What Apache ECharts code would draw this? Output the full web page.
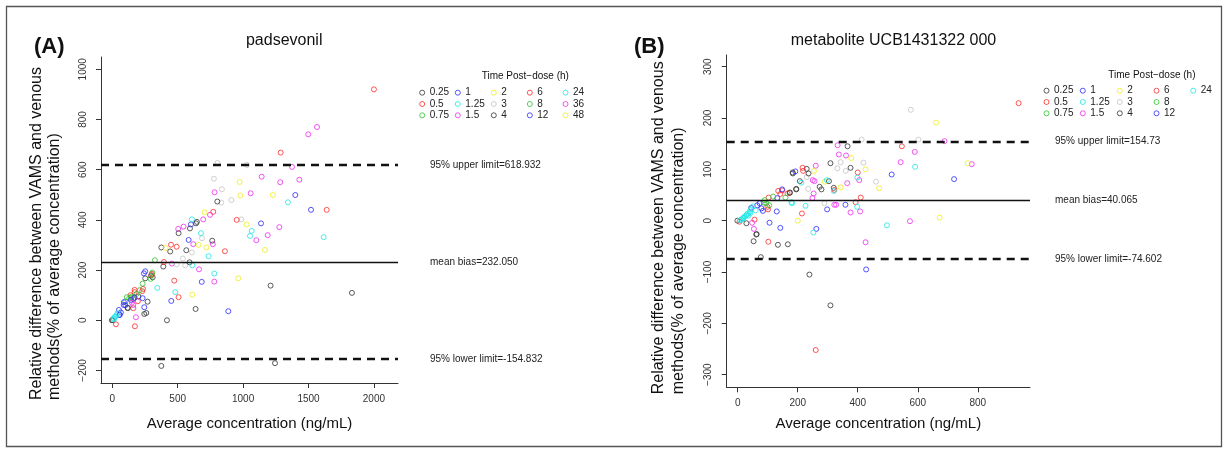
<!DOCTYPE html>
<html>
<head>
<meta charset="utf-8">
<script src="https://cdn.jsdelivr.net/npm/echarts@6/dist/echarts.min.js"></script>
<style>
html, body { margin: 0; padding: 0; background: #fff; }
#main { width: 1229px; height: 454px; }
</style>
</head>
<body>
<div id="main"></div>
<script>
// time groups (h) and the R palette they cycle through
var groupsA = ['0.25','0.5','0.75','1','1.25','1.5','2','3','4','6','8','12','24','36','48'];
var groupsB = ['0.25','0.5','0.75','1','1.25','1.5','2','3','4','6','8','12','24'];
var palette = ['#333333','#ff2a2a','#2ec42e','#2a2aff','#1ee6e6','#f02af0','#eeee1a','#c4c4c4'];

// panel A : padsevonil  [average conc, relative difference]
var pad_0_25 = [[-3,0],[3,1],[117,49],[120,49],[160,85],[200,95],[245,25],[260,29],[270,74],[252,167],[309,171],[296,178],[375,290],[390,214]];
var pad_0_5  = [[28,-16],[173,-24],[161,48],[196,76],[171,112],[171,121],[229,116],[235,125],[140,100],[303,185],[300,180],[474,158],[507,92]];
var pad_0_75 = [[112,92],[143,90],[130,88],[147,94],[100,75],[186,105],[210,120]];
var pad_1    = [[51,41],[54,21],[66,31],[58,22],[89,72],[87,61],[100,60],[143,81],[170,90],[232,88],[245,52],[252,195],[242,187]];
var pad_1_25 = [[13,4],[18,12],[33,20],[10,8],[25,15],[40,28],[344,129],[482,112]];
var pad_1_5  = [[161,61],[181,12],[150,70],[456,226],[504,364],[545,373],[619,303],[663,203],[695,402],[747,420],[769,303],[780,154]];
var pad_2    = [[408,288],[612,102],[660,300],[706,430],[719,290]];
var pad_3    = [[805,627],[1030,619],[777,564],[838,522],[833,469],[910,479],[986,402],[686,327],[609,270],[540,246],[492,223],[558,219]];
var pad_4    = [[443,274],[507,347],[566,279],[591,231],[594,366],[640,386],[647,392],[637,45],[764,317],[803,473],[1210,138],[1832,109],[418,0],[375,-182],[1244,-171]];
var pad_6    = [[2000,920],[1287,668],[1639,440],[772,432],[951,400],[449,301],[492,293],[395,232],[861,275]];
var pad_8    = [[326,239],[306,190],[293,165],[232,146]];
var pad_12   = [[601,382],[1137,386],[1399,499],[1519,440],[584,320],[684,153],[451,77],[887,36]];
var pad_24   = [[1343,470],[609,402],[1066,356],[1053,336],[1616,331],[678,347],[736,255],[612,219],[780,186]];
var pad_36   = [[1565,770],[1498,741],[1374,611],[1142,572],[1284,550],[1430,560],[782,510],[1058,506],[1277,371],[1188,339],[1101,319]];
var pad_48   = [[974,551],[979,497],[1228,499],[1027,382],[1167,280],[963,167]];

// panel B : metabolite UCB1431322 000
var met_0_25 = [[-1,0],[29,-5],[62,-27],[53,-40],[63,-26],[77,-71],[134,-47],[167,-46],[173,54],[174,55],[184,92],[183,94],[195,61],[195,62]];
var met_0_5  = [[6,-2],[56,2],[99,27],[101,22],[103,45],[102,-41],[135,58],[142,52],[148,59],[166,53],[214,14]];
var met_0_75 = [[88,35],[95,34],[90,40]];
var met_1    = [[45,25],[65,30],[73,34],[79,24],[84,19],[106,-4],[130,18],[132,44],[142,-14],[148,61]];
var met_1_25 = [[8,1],[12,2],[15,3],[18,5],[20,6],[23,8],[28,10],[30,12],[34,14],[36,10],[40,18],[42,15],[45,22],[51,28],[60,20],[179,36],[181,34]];
var met_1_5  = [[689,155],[333,147],[590,134],[337,129],[361,127],[543,114],[780,110],[260,107],[250,79],[256,77],[365,73],[405,79],[253,53],[249,44],[322,31],[328,31],[376,16],[408,18],[574,-1],[54,-16],[426,-42],[48,-4]];
var met_2    = [[661,191],[378,122],[766,112],[426,100],[254,97],[471,63],[343,65],[200,0],[673,6],[290,76]];
var met_3    = [[577,216],[413,158],[602,158],[343,114],[419,113],[332,102],[360,97],[461,76],[235,62],[289,34],[230,85]];
var met_4    = [[309,112],[366,145],[376,103],[230,101],[236,92],[207,77],[304,77],[273,66],[279,61],[320,64],[239,-105],[309,-165]];
var met_6    = [[936,229],[547,145],[216,103],[218,97],[400,94],[322,60],[410,45],[393,36],[260,-252]];
var met_8    = [[118,47],[159,45],[105,30]];
var met_12   = [[192,96],[513,90],[721,81],[298,22],[359,31],[262,-16],[428,-95]];
var met_24   = [[591,105],[212,74],[297,79],[399,84],[226,29],[398,27],[252,-23],[497,-9],[320,58]];

// limits of agreement
var limitsA = [618.932, 232.050, -154.832];
var limitTextA = ['95% upper limit=618.932', 'mean bias=232.050', '95% lower limit=-154.832'];
var limitsB = [154.73, 40.065, -74.602];
var limitTextB = ['95% upper limit=154.73', 'mean bias=40.065', '95% lower limit=-74.602'];

// tick labels
var ticksXA = [0, 500, 1000, 1500, 2000];
var ticksYA = [-200, 0, 200, 400, 600, 800, 1000];
var ticksXB = [0, 200, 400, 600, 800];
var ticksYB = [-300, -200, -100, 0, 100, 200, 300];

var dataA = [pad_0_25,pad_0_5,pad_0_75,pad_1,pad_1_25,pad_1_5,pad_2,pad_3,pad_4,pad_6,pad_8,pad_12,pad_24,pad_36,pad_48];
var dataB = [met_0_25,met_0_5,met_0_75,met_1,met_1_25,met_1_5,met_2,met_3,met_4,met_6,met_8,met_12,met_24];

var FONT = 'Liberation Sans, Arial, Helvetica, sans-serif';

function colorOf(i) { return palette[i % 8]; }

function axis(min, max, ticks, extra, rot) {
    var a = {
        type: 'value', min: min, max: max,
        splitLine: { show: false },
        axisLine: { show: true, onZero: false, lineStyle: { color: '#333', width: 1 } },
        axisTick: { show: true, customValues: ticks, length: 5, lineStyle: { color: '#333' } },
        axisLabel: { customValues: ticks, color: '#333', fontSize: 10, fontFamily: FONT, margin: rot ? 13 : 11,
                     rotate: rot || 0,
                     formatter: function (v) { return v < 0 ? '\u2212' + (-v) : String(v); } }
    };
    for (var k in extra) a[k] = extra[k];
    return a;
}

function limitLines(limits, texts, dist, shifts) {
    return {
        silent: true, symbol: 'none', animation: false,
        data: limits.map(function (v, k) {
            return {
                yAxis: v,
                lineStyle: k == 1 ? { type: 'solid', width: 1.3, color: '#111' }
                                  : { type: [8, 6], width: 2.3, color: '#111' },
                label: { show: true, position: 'end', distance: dist, formatter: texts[k],
                         color: '#222', fontSize: 10, fontFamily: FONT,
                         padding: [0, 0, shifts[k] * 2, 0] }
            };
        })
    };
}

var series = [];
groupsA.forEach(function (g, i) {
    var s = {
        name: g, type: 'scatter', xAxisIndex: 0, yAxisIndex: 0,
        symbol: 'circle', symbolSize: 5, data: dataA[i],
        itemStyle: { color: 'transparent', borderColor: colorOf(i), borderWidth: 1 },
        emphasis: { disabled: true }
    };
    if (i == 0) s.markLine = limitLines(limitsA, limitTextA, 32, [4.5, 1, 2]);
    series.push(s);
});
groupsB.forEach(function (g, i) {
    var s = {
        name: g, type: 'scatter', xAxisIndex: 1, yAxisIndex: 1,
        symbol: 'circle', symbolSize: 5, data: dataB[i],
        itemStyle: { color: 'transparent', borderColor: colorOf(i), borderWidth: 1 },
        emphasis: { disabled: true }
    };
    if (i == 0) s.markLine = limitLines(limitsB, limitTextB, 25, [7.5, 4, 1]);
    series.push(s);
});

// legends laid out column by column, 3 rows each
function legends(groups, lefts, top) {
    var out = [];
    for (var c = 0; c * 3 < groups.length; c++) {
        out.push({
            orient: 'vertical', left: lefts[c], top: top, padding: 0,
            itemGap: 1.3, itemWidth: 5, itemHeight: 5, selectedMode: false,
            textStyle: { fontSize: 10, color: '#222', fontFamily: FONT },
            data: groups.slice(c * 3, c * 3 + 3).map(function (g, r) {
                return { name: g, icon: 'circle',
                         itemStyle: { color: 'transparent', borderColor: colorOf(c * 3 + r), borderWidth: 1 } };
            })
        });
    }
    return out;
}

function txt(t, x, y, size, opts) {
    var e = { type: 'text', x: x, y: y, silent: true,
              style: { text: t, fill: '#111', font: size + 'px ' + FONT,
                       textAlign: 'left', textVerticalAlign: 'middle' } };
    for (var k in opts) e.style[k] = opts[k];
    return e;
}
function vtxt(t, x, y) {
    var e = txt(t, x, y, 16);
    e.rotation = Math.PI / 2;
    return e;
}

var chart = echarts.init(document.getElementById('main'), null, { renderer: 'canvas' });
chart.setOption({
    animation: false,
    backgroundColor: '#fff',
    grid: [
        { left: 101, top: 57, width: 297, height: 326, outerBoundsMode: 'none' },
        { left: 726.7, top: 55, width: 303.3, height: 332.3, outerBoundsMode: 'none' }
    ],
    xAxis: [
        axis(-86, 2184, ticksXA, { gridIndex: 0, name: 'Average concentration (ng/mL)', nameLocation: 'middle', nameGap: 33,
             nameTextStyle: { fontSize: 15, color: '#111', fontFamily: FONT } }),
        axis(-36.7, 974, ticksXB, { gridIndex: 1, name: 'Average concentration (ng/mL)', nameLocation: 'middle', nameGap: 29,
             nameTextStyle: { fontSize: 15, color: '#111', fontFamily: FONT } })
    ],
    yAxis: [
        axis(-250, 1049, ticksYA, { gridIndex: 0 }, 90),
        axis(-324.6, 322.8, ticksYB, { gridIndex: 1 }, 90)
    ],
    legend: legends(groupsA, [419.2, 454.8, 490.8, 526.8, 562.5], 87.7)
        .concat(legends(groupsB, [1043.5, 1079.8, 1116.8, 1153.5, 1190.2], 85.7)),
    series: series,
    graphic: [
        { type: 'rect', silent: true, shape: { x: 6.5, y: 6.5, width: 1215, height: 440 },
          style: { fill: 'none', stroke: '#555', lineWidth: 1.3 } },
        txt('(A)', 34, 47, 22, { font: 'bold 22px ' + FONT }),
        txt('(B)', 634, 47, 22, { font: 'bold 22px ' + FONT }),
        txt('padsevonil', 284.2, 41, 16, { textAlign: 'center' }),
        txt('metabolite UCB1431322 000', 893.5, 41, 16, { textAlign: 'center' }),
        txt('Time Post\u2212dose (h)', 481.7, 76.7, 10),
        txt('Time Post\u2212dose (h)', 1108.3, 75, 10),
        vtxt('Relative difference between VAMS and venous', 36.7, 400),
        vtxt('methods(% of average concentration)', 55, 400),
        vtxt('Relative difference between VAMS and venous', 658.3, 394.3),
        vtxt('methods(% of average concentration)', 679, 394.3)
    ]
});
</script>
</body>
</html>
